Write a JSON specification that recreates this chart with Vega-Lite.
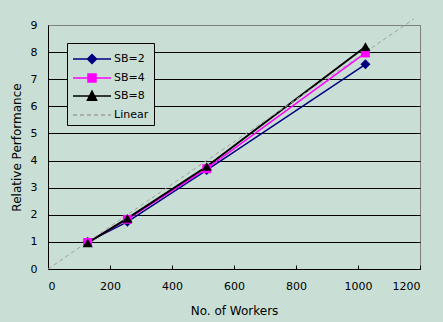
{
  "$schema": "https://vega.github.io/schema/vega-lite/v6.json",
  "width": 372,
  "height": 244,
  "autosize": {"type": "none"},
  "padding": {"left": 48, "top": 25, "right": 23, "bottom": 53},
  "background": "#c9dfd6",
  "config": {
    "view": {"stroke": "#808080", "fill": "#c9dfd6"},
    "font": "DejaVu Sans"
  },
  "data": {
    "values": [
      {"workers": 128, "perf": 1.0, "series": "SB=2"},
      {"workers": 256, "perf": 1.74, "series": "SB=2"},
      {"workers": 512, "perf": 3.65, "series": "SB=2"},
      {"workers": 1024, "perf": 7.55, "series": "SB=2"},
      {"workers": 128, "perf": 0.98, "series": "SB=4"},
      {"workers": 256, "perf": 1.83, "series": "SB=4"},
      {"workers": 512, "perf": 3.7, "series": "SB=4"},
      {"workers": 1024, "perf": 7.97, "series": "SB=4"},
      {"workers": 128, "perf": 0.96, "series": "SB=8"},
      {"workers": 256, "perf": 1.87, "series": "SB=8"},
      {"workers": 512, "perf": 3.78, "series": "SB=8"},
      {"workers": 1024, "perf": 8.2, "series": "SB=8"},
      {"workers": 0, "perf": 0, "series": "Linear"},
      {"workers": 1180, "perf": 9.22, "series": "Linear"}
    ]
  },
  "encoding": {
    "x": {
      "field": "workers",
      "type": "quantitative",
      "scale": {"domain": [0, 1200]},
      "axis": {
        "title": "No. of Workers",
        "titleFontSize": 12,
        "titleFontWeight": "normal",
        "titleColor": "black",
        "titlePadding": 14,
        "labelFontSize": 11,
        "labelColor": "black",
        "labelPadding": 15,
        "format": "d",
        "values": [0, 200, 400, 600, 800, 1000, 1200],
        "tickSize": -4,
        "tickColor": "black",
        "domainColor": "black",
        "grid": false
      }
    },
    "y": {
      "field": "perf",
      "type": "quantitative",
      "scale": {"domain": [0, 9]},
      "axis": {
        "title": "Relative Performance",
        "titleFontSize": 12,
        "titleFontWeight": "normal",
        "titleColor": "black",
        "titlePadding": 7,
        "labelFontSize": 11,
        "labelColor": "black",
        "labelPadding": 11,
        "values": [0, 1, 2, 3, 4, 5, 6, 7, 8, 9],
        "ticks": false,
        "domainColor": "black",
        "grid": true,
        "gridOpacity": 1,
        "gridColor": {"condition": {"test": "datum.value === 9", "value": "#808080"}, "value": "#000000"}
      }
    }
  },
  "layer": [
    {
      "mark": {"type": "point", "filled": true, "opacity": 0, "size": 400},
      "encoding": {
        "color": {
          "field": "series",
          "type": "nominal",
          "scale": {"domain": ["SB=2", "SB=4", "SB=8", "Linear"], "range": ["#000080", "#ff00ff", "#000000", "#a0a0a0"]},
          "legend": {
            "orient": "none",
            "legendX": 19,
            "legendY": 18,
            "title": null,
            "strokeColor": "black",
            "fillColor": "#c9dfd6",
            "padding": 5,
            "labelFontSize": 11,
            "labelColor": "black",
            "labelOffset": 20,
            "symbolSize": 400,
            "symbolOpacity": 1,
            "symbolStrokeWidth": 1.5,
            "rowPadding": 0,
            "encode": {
              "symbols": {
                "update": {
                  "stroke": {"scale": "color", "field": "value"},
                  "fill": {"scale": "color", "field": "value"},
                  "opacity": {"value": 1}
                }
              }
            }
          }
        },
        "shape": {
          "field": "series",
          "type": "nominal",
          "scale": {
            "domain": ["SB=2", "SB=4", "SB=8", "Linear"],
            "range": [
              "M-1,0H2.8M0.9,-0.45L1.35,0L0.9,0.45L0.45,0Z",
              "M-1,0H2.8M0.5,-0.4H1.3V0.4H0.5Z",
              "M-1,0H2.8M0.44,0.42H1.36L0.9,-0.48Z",
              "M-1,0H-0.6M-0.3,0H0.1M0.4,0H0.8M1.1,0H1.5M1.8,0H2.2M2.5,0H2.8"
            ]
          }
        }
      }
    },
    {
      "transform": [{"filter": "datum.series === 'SB=2'"}],
      "mark": {"type": "line", "color": "#000080", "strokeWidth": 1.5}
    },
    {
      "transform": [{"filter": "datum.series === 'SB=4'"}],
      "mark": {"type": "line", "color": "#ff00ff", "strokeWidth": 1.5}
    },
    {
      "transform": [{"filter": "datum.series === 'SB=8'"}],
      "mark": {"type": "line", "color": "#000000", "strokeWidth": 2}
    },
    {
      "transform": [{"filter": "datum.series === 'Linear'"}],
      "mark": {"type": "line", "color": "#a0a0a0", "strokeWidth": 1, "strokeDash": [4, 3], "clip": false}
    },
    {
      "transform": [{"filter": "datum.series === 'SB=2'"}],
      "mark": {"type": "point", "shape": "diamond", "filled": true, "color": "#000080", "opacity": 1, "size": 100}
    },
    {
      "transform": [{"filter": "datum.series === 'SB=4'"}],
      "mark": {"type": "point", "shape": "square", "filled": true, "color": "#ff00ff", "opacity": 1, "size": 80}
    },
    {
      "transform": [{"filter": "datum.series === 'SB=8'"}],
      "mark": {"type": "point", "shape": "triangle-up", "filled": true, "color": "#000000", "opacity": 1, "size": 100}
    }
  ]
}
